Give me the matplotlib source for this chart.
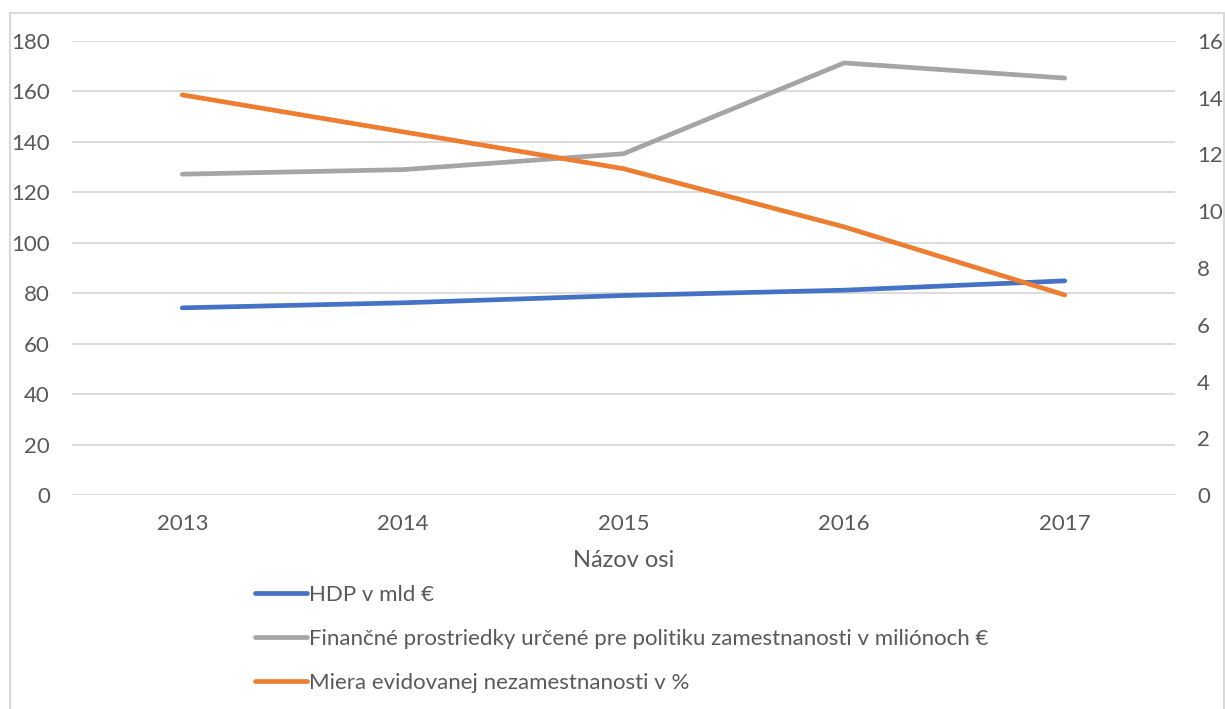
import matplotlib.pyplot as plt
from matplotlib.patches import Rectangle

years = ['2013', '2014', '2015', '2016', '2017']
hdp = [74.2, 76.2, 79.1, 81.2, 84.9]
financne = [127.2, 129.0, 135.3, 171.3, 165.3]
miera = [14.1, 12.8, 11.5, 9.45, 7.05]

labels = ['HDP v mld €',
          'Finančné prostriedky určené pre politiku zamestnanosti v miliónoch €',
          'Miera evidovanej nezamestnanosti v %']

plt.rcParams['font.family'] = ['Lato', 'DejaVu Sans']
text_col = '#595959'
grid_col = '#d9d9d9'

fig = plt.figure(figsize=(12.25, 7.09), dpi=100, facecolor='w')
# ramik grafu
fig.patches.append(Rectangle((10 / 1225, -0.1), 1214 / 1225, 1.1 - 13 / 709,
                             transform=fig.transFigure, fill=False,
                             edgecolor=grid_col, linewidth=1.5))

ax = fig.add_axes([72 / 1225, 1 - 495 / 709, 1103 / 1225, 454 / 709])
ax2 = ax.twinx()

x = list(range(len(years)))
l1, = ax.plot(x, hdp, color='#4472C4', linewidth=3.4, solid_capstyle='round')
l2, = ax.plot(x, financne, color='#A5A5A5', linewidth=3.4, solid_capstyle='round')
l3, = ax2.plot(x, miera, color='#ED7D31', linewidth=3.4, solid_capstyle='round')

ax.set_xlim(-0.5, len(years) - 0.5)
ax.set_ylim(0, 180)
ax2.set_ylim(0, 16)
ax.set_yticks(range(0, 181, 20))
ax2.set_yticks(range(0, 17, 2))
ax.set_xticks(x)
ax.set_xticklabels(years)

ax.grid(axis='y', color=grid_col, linewidth=1.3)
ax.set_axisbelow(True)
for a in (ax, ax2):
    for s in a.spines.values():
        s.set_visible(False)
    a.tick_params(length=0, labelsize=16, colors=text_col)
ax.tick_params(axis='y', pad=16)
ax2.tick_params(axis='y', pad=16)
ax.tick_params(axis='x', pad=14)

ax.set_xlabel('Názov osi', fontsize=17, color=text_col, labelpad=11)

fig.legend([l1, l2, l3], labels, loc='upper left',
           bbox_to_anchor=(235 / 1225, 1 - 565 / 709), frameon=False,
           fontsize=16, labelcolor=text_col, handlelength=2.35,
           handletextpad=0.1, labelspacing=1.08)

plt.savefig('out.png', dpi=100, facecolor='w')
